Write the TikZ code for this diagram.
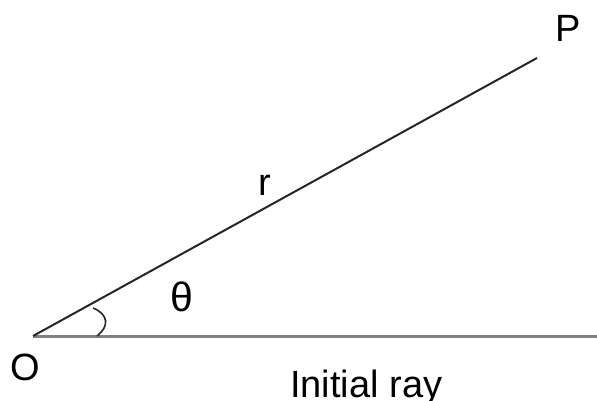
\documentclass[tikz,border=0pt]{standalone}
\usepackage{fontspec}
\setmainfont{Liberation Sans}
\begin{document}
\begin{tikzpicture}[x=1pt,y=-1pt,
  lbl/.style={inner sep=0pt,font=\fontsize{38}{40}\selectfont},
  rayline/.style={draw=black!50,line width=3pt},
  radline/.style={draw=black!85,line width=2pt},
  anglearc/.style={draw=black!85,line width=1.6pt}]
\useasboundingbox (0,0) rectangle (597,401);
\coordinate (o) at (33,336);
\coordinate (p) at (537,58);
\coordinate (rayend) at (597,336);
\coordinate (a1) at (93,308);
\coordinate (a2) at (97,336);
\draw[rayline] (o) -- (rayend);
\draw[radline] (o) -- (p);
\draw[anglearc] (a1) .. controls (108,314) and (110,326) .. (a2);
\node[lbl,anchor=base] (Olbl) at (25,380) {O};
\node[lbl,anchor=base] (Plbl) at (568,42) {P};
\node[lbl,anchor=base] (rlbl) at (265,195) {r};
\node[lbl,anchor=base,font=\fontsize{41}{43}\selectfont] (th) at (182,311) {θ};
\node[lbl,anchor=base west] (init) at (290,397) {Initial ray};
\end{tikzpicture}
\end{document}
